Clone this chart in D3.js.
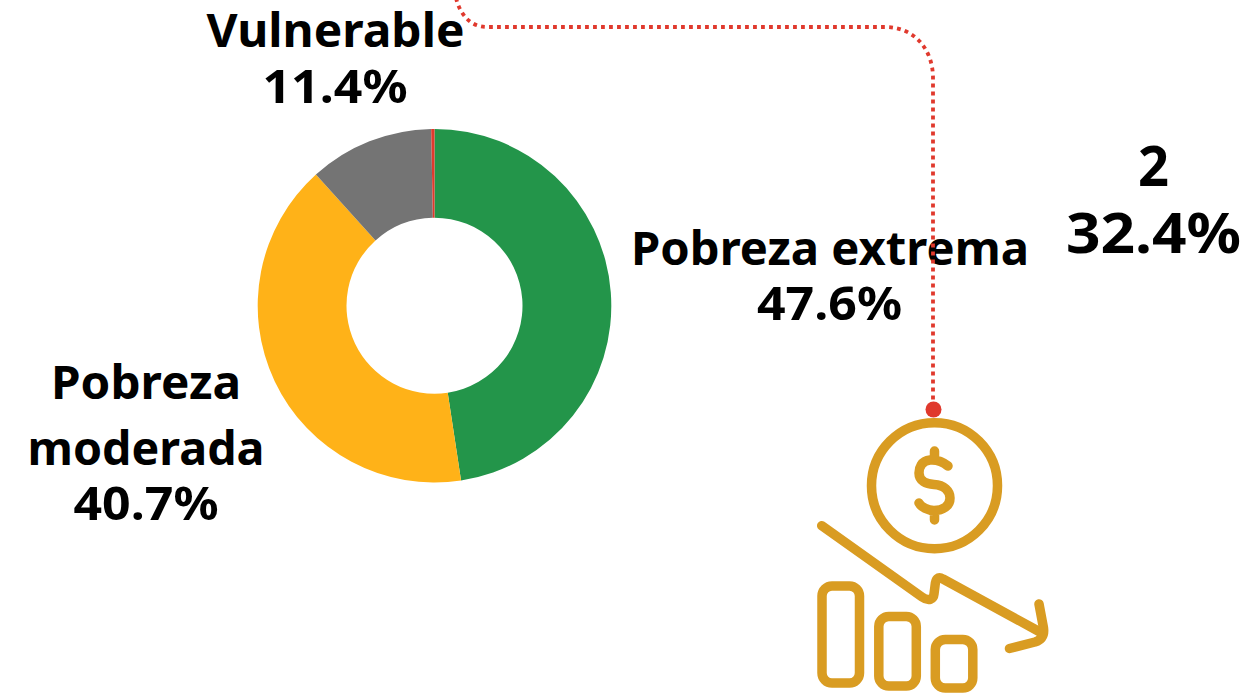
<!DOCTYPE html>
<html><head><meta charset="utf-8">
<script src="https://cdn.jsdelivr.net/npm/d3@7/dist/d3.min.js"></script>
<style>html,body{margin:0;padding:0;background:#fff;overflow:hidden}svg{display:block}
text{font-family:"Noto Sans",sans-serif;font-weight:700;fill:#000;text-anchor:middle}</style>
</head><body><svg id="c" width="1249" height="694"></svg>
<script>
const categories=["Pobreza extrema","Pobreza moderada","Vulnerable","Otro"];
const shares=[47.6,40.7,11.4,0.3];
const sliceColors=["#23954a","#ffb218","#747474","#e0392d"];
const svg=d3.select("#c");
const pie=d3.pie().sort(null).value(d=>d)(shares);
const arc=d3.arc().innerRadius(88).outerRadius(176.8);
svg.append("g").attr("transform","translate(434.5,305.7)").selectAll("path").data(pie).join("path")
 .attr("d",arc).attr("fill",(d,i)=>sliceColors[i]);
const labels=[
 {lines:[["Vulnerable",335.5,47,258],["11.4%",335,103,145]],size:47},
 {lines:[["Pobreza extrema",830,265,398],["47.6%",829.5,320,145]],size:47},
 {lines:[["Pobreza",146,399,190],["moderada",146,465,237],["40.7%",146,520,145]],size:47},
 {lines:[["2",1153.5,186,31],["32.4%",1153.5,253,175]],size:56}];
labels.forEach(l=>l.lines.forEach(t=>svg.append("text").attr("x",t[1]).attr("y",t[2]).attr("font-size",l.size)
 .attr("textLength",t[3]).attr("lengthAdjust","spacingAndGlyphs").text(t[0])));
svg.append("path").attr("d","M456,-2C460,14 470,27 487,27H885C915,27 933,50 933,78V402")
 .attr("fill","none").attr("stroke","#e0392d").attr("stroke-width",3.8).attr("stroke-dasharray","3.8 4.2");
svg.append("circle").attr("cx",933.5).attr("cy",409.5).attr("r",8).attr("fill","#e0392d");
const g=svg.append("g").attr("fill","none").attr("stroke","#d99c22").attr("stroke-width",9.5).attr("stroke-linecap","round").attr("stroke-linejoin","round");
g.append("circle").attr("cx",934.5).attr("cy",485.7).attr("r",63);
g.append("path").attr("d","M934.5,451V459M934.5,512V520M948,466C942,461 936,459.5 930,460C921,461 919,468 919,473C919,481 926,484 934,484.5C944,485 950,491 950,498C950,506 943,510.5 934,510.5C928,510.5 921,507 919,503");
g.append("rect").attr("x",822).attr("y",586).attr("width",37.5).attr("height",97).attr("rx",10);
g.append("rect").attr("x",878.8).attr("y",616.5).attr("width",37.5).attr("height",69.5).attr("rx",10);
g.append("rect").attr("x",935.3).attr("y",639.5).attr("width",37.5).attr("height",48.5).attr("rx",10);
g.append("path").attr("d","M821.7,525.7L922,597C929,602 933.5,599 934,594L935,586C935.5,579 938,576 943,579L1040,632");
g.append("path").attr("d","M1039,604L1043.5,628C1044.5,636 1041,640 1035,642L1009.5,648.5");
</script></body></html>
